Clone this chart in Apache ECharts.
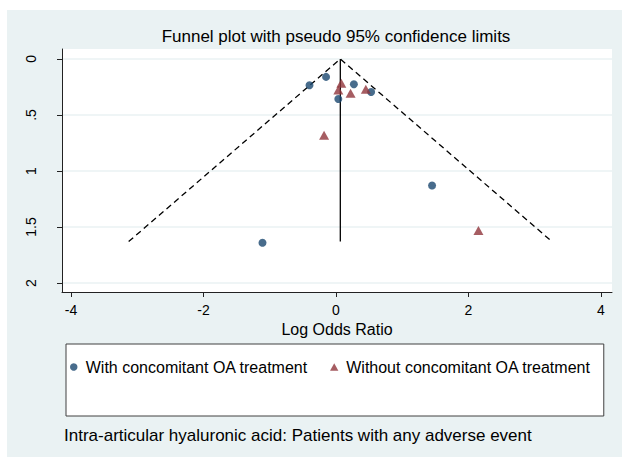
<!DOCTYPE html>
<html>
<head>
<meta charset="utf-8">
<script src="https://cdn.jsdelivr.net/npm/echarts@6/dist/echarts.min.js"></script>
<style>
	html, body { margin: 0; padding: 0; background: #fff; }
	#bg { position: absolute; left: 7px; top: 10px; width: 615px; height: 447px; background: #eaf2f3; }
	#chart { position: absolute; left: 0; top: 0; width: 622px; height: 457px; }
</style>
</head>
<body>
<div id="bg"></div>
<div id="chart"></div>
<script>
// 研究点：对数优势比 与 标准误
const withLogOR = [-0.40, -0.15, 0.27, 0.53, 0.035, 1.45, -1.11];
const withSE = [0.235, 0.16, 0.226, 0.295, 0.357, 1.13, 1.64];
const withoutLogOR = [0.08, 0.035, 0.22, 0.45, -0.18, 2.15];
const withoutSE = [0.217, 0.277, 0.306, 0.27, 0.68, 1.53];

// 合并估计 与 伪 95% 置信限
const pooledLogOR = 0.065;
const maxSE = 1.63;
const lowerLimit = -3.13;
const upperLimit = 3.26;

const xTicks = [-4, -2, 0, 2, 4];
const yTicks = [0, 0.5, 1, 1.5, 2];
const yTickLabels = ['0', '.5', '1', '1.5', '2'];

const seriesNames = ['With concomitant OA treatment', 'Without concomitant OA treatment'];

const font = 'Liberation Sans, Arial, sans-serif';

let myChart = echarts.init(document.getElementById('chart'), null, {renderer: 'svg'});

let option = {
	backgroundColor: 'transparent',
	animation: false,
	textStyle: {fontFamily: font},
	title: [
		{
			text: 'Funnel plot with pseudo 95% confidence limits',
			left: 336,
			top: 28,
			padding: 0,
			textAlign: 'center',
			textStyle: {fontSize: 17, fontWeight: 'normal', color: '#000', fontFamily: font}
		},
		{
			text: 'Intra-articular hyaluronic acid: Patients with any adverse event',
			left: 64,
			top: 427,
			padding: 0,
			textStyle: {fontSize: 17, fontWeight: 'normal', color: '#000', fontFamily: font}
		}
	],
	grid: {
		left: 62,
		top: 49,
		right: 10,
		bottom: 165,
		show: true,
		backgroundColor: '#fff',
		borderWidth: 0
	},
	xAxis: {
		type: 'value',
		min: -4.136,
		max: 4.166,
		name: 'Log Odds Ratio',
		nameLocation: 'middle',
		nameGap: 26,
		nameTextStyle: {fontSize: 16, color: '#000', fontFamily: font},
		axisLine: {show: true, onZero: false, lineStyle: {color: '#222', width: 1}},
		axisTick: {show: true, length: 5, customValues: xTicks, lineStyle: {color: '#222'}},
		axisLabel: {
			customValues: xTicks,
			margin: 11,
			fontSize: 14,
			color: '#000'
		},
		splitLine: {show: false}
	},
	yAxis: {
		type: 'value',
		inverse: true,
		min: -0.089,
		max: 2.08,
		axisLine: {show: true, onZero: false, lineStyle: {color: '#222', width: 1}},
		axisTick: {show: true, length: 5, customValues: yTicks, lineStyle: {color: '#222'}},
		axisLabel: {
			customValues: yTicks,
			rotate: 90,
			margin: 24,
			fontSize: 14,
			color: '#000',
			formatter: v => yTickLabels[yTicks.indexOf(+v)] !== undefined ? yTickLabels[yTicks.indexOf(+v)] : ''
		},
		splitLine: {show: true, lineStyle: {color: '#eaf2f3', width: 1.5}}
	},
	legend: {
		left: 66,
		top: 344,
		orient: 'horizontal',
		padding: [15, 13, 41, 4],
		itemGap: 22,
		itemWidth: 14,
		itemHeight: 7.5,
		symbolKeepAspect: true,
		backgroundColor: '#fff',
		borderColor: '#404040',
		borderWidth: 1,
		borderRadius: 0,
		textStyle: {fontSize: 16, color: '#000', fontFamily: font},
		data: [
			{name: seriesNames[0], icon: 'circle'},
			{name: seriesNames[1], icon: 'path://M5,0 L10,9 L0,9 Z'}
		]
	},
	series: [
		{
			name: 'limits',
			type: 'line',
			data: [[lowerLimit, maxSE], [pooledLogOR, 0], [upperLimit, maxSE]],
			symbol: 'none',
			silent: true,
			lineStyle: {color: '#000', width: 1.3, type: [6, 4]},
			z: 1
		},
		{
			name: 'pooled',
			type: 'line',
			data: [[pooledLogOR, 0], [pooledLogOR, maxSE]],
			symbol: 'none',
			silent: true,
			lineStyle: {color: '#000', width: 1.3},
			z: 1
		},
		{
			name: seriesNames[0],
			type: 'scatter',
			data: withLogOR.map((v, i) => [v, withSE[i]]),
			symbol: 'circle',
			symbolSize: 8,
			itemStyle: {color: '#1a476f'},
			z: 3
		},
		{
			name: seriesNames[1],
			type: 'scatter',
			data: withoutLogOR.map((v, i) => [v, withoutSE[i]]),
			symbol: 'triangle',
			symbolSize: [10, 9],
			itemStyle: {color: '#90353b'},
			z: 3
		}
	]
};

myChart.setOption(option, true);
</script>
</body>
</html>
